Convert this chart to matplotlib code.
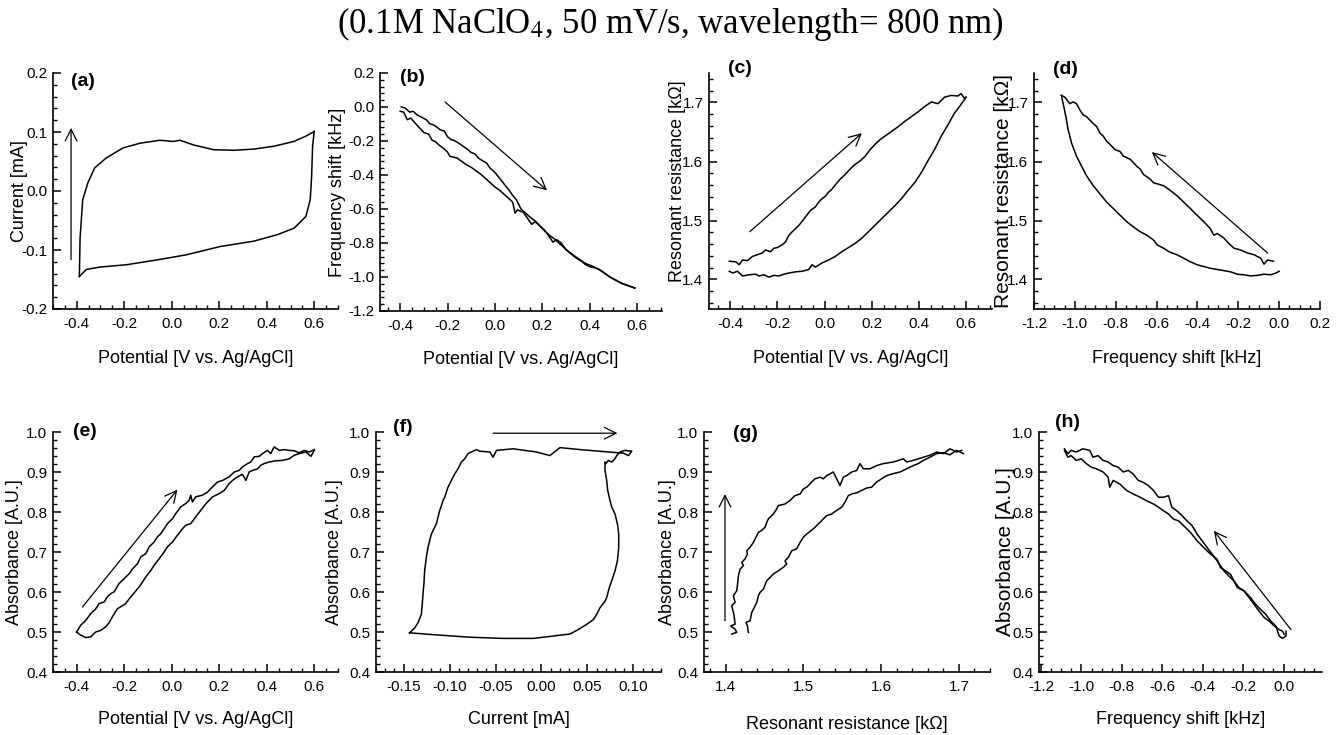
import matplotlib
matplotlib.use("Agg")
import matplotlib.pyplot as plt
from matplotlib.ticker import MultipleLocator, AutoMinorLocator

plt.rcParams['font.family'] = ['Liberation Sans', 'DejaVu Sans']
plt.rcParams['axes.unicode_minus'] = False
plt.rcParams['mathtext.fontset'] = 'stix'

# ---------------- data ----------------
# (a) cyclic voltammogram
a_fwd_x = [-0.389, -0.386, -0.375, -0.353, -0.325, -0.276, -0.205, -0.134, -0.05, 0.007, 0.035, 0.092, 0.176, 0.261, 0.346, 0.431, 0.515, 0.565, 0.6]
a_fwd_y = [-0.145, -0.08, -0.015, 0.014, 0.039, 0.056, 0.073, 0.081, 0.086, 0.084, 0.086, 0.078, 0.070, 0.069, 0.071, 0.076, 0.084, 0.093, 0.101]
a_rev_x = [0.6, 0.593, 0.589, 0.583, 0.565, 0.515, 0.445, 0.346, 0.205, 0.063, -0.05, -0.191, -0.304, -0.36, -0.389]
a_rev_y = [0.101, 0.076, 0.025, -0.015, -0.043, -0.063, -0.074, -0.085, -0.094, -0.108, -0.116, -0.125, -0.129, -0.133, -0.145]

# (b) frequency shift vs potential
b_up_x = [-0.395, -0.38, -0.36, -0.345, -0.33, -0.31, -0.29, -0.275, -0.26, -0.245, -0.23, -0.215, -0.20, -0.185, -0.17, -0.15, -0.13, -0.115, -0.10, -0.085, -0.07, -0.05, -0.035, -0.02, 0.0, 0.02, 0.04, 0.06, 0.075, 0.09, 0.11, 0.13, 0.15, 0.17, 0.19, 0.21, 0.23, 0.25, 0.27, 0.29, 0.31, 0.33, 0.35, 0.37, 0.39, 0.41, 0.43, 0.45, 0.47, 0.49, 0.51, 0.53, 0.55, 0.57, 0.59]
b_up_y = [0.000, -0.005, -0.030, -0.025, -0.045, -0.060, -0.075, -0.098, -0.105, -0.118, -0.135, -0.140, -0.175, -0.192, -0.198, -0.215, -0.235, -0.250, -0.268, -0.275, -0.300, -0.318, -0.330, -0.360, -0.385, -0.420, -0.455, -0.490, -0.520, -0.545, -0.600, -0.625, -0.650, -0.670, -0.700, -0.730, -0.755, -0.775, -0.800, -0.825, -0.850, -0.875, -0.895, -0.910, -0.925, -0.935, -0.950, -0.965, -0.985, -1.005, -1.020, -1.035, -1.045, -1.055, -1.065]
b_lo_x = [-0.40, -0.385, -0.37, -0.355, -0.34, -0.32, -0.30, -0.28, -0.265, -0.25, -0.235, -0.22, -0.20, -0.19, -0.175, -0.16, -0.14, -0.12, -0.10, -0.08, -0.06, -0.04, -0.02, 0.0, 0.02, 0.04, 0.06, 0.075, 0.085, 0.095, 0.12, 0.14, 0.155, 0.17, 0.19, 0.21, 0.23, 0.245, 0.26, 0.28, 0.30, 0.32, 0.34, 0.36, 0.38, 0.40, 0.42, 0.44, 0.46, 0.48, 0.50, 0.52, 0.54, 0.56, 0.59]
b_lo_y = [-0.025, -0.030, -0.075, -0.065, -0.090, -0.120, -0.150, -0.160, -0.195, -0.205, -0.225, -0.240, -0.265, -0.290, -0.295, -0.300, -0.320, -0.340, -0.355, -0.375, -0.395, -0.420, -0.445, -0.470, -0.490, -0.515, -0.540, -0.560, -0.625, -0.605, -0.620, -0.660, -0.690, -0.675, -0.700, -0.725, -0.765, -0.795, -0.780, -0.800, -0.840, -0.860, -0.880, -0.900, -0.925, -0.940, -0.945, -0.955, -0.975, -0.995, -1.010, -1.025, -1.040, -1.050, -1.065]

# (c) resonant resistance vs potential
c_up_x = [-0.404, -0.376, -0.362, -0.348, -0.327, -0.306, -0.285, -0.264, -0.250, -0.229, -0.215, -0.201, -0.179, -0.165, -0.151, -0.137, -0.116, -0.102, -0.081, -0.060, -0.039, -0.025, -0.011, 0.003, 0.017, 0.031, 0.045, 0.066, 0.087, 0.108, 0.129, 0.151, 0.172, 0.193, 0.214, 0.235, 0.256, 0.284, 0.312, 0.340, 0.368, 0.396, 0.424, 0.453, 0.481, 0.509, 0.537, 0.565, 0.579, 0.593, 0.600]
c_up_y = [1.431, 1.430, 1.425, 1.433, 1.432, 1.439, 1.442, 1.445, 1.450, 1.447, 1.453, 1.454, 1.459, 1.464, 1.475, 1.481, 1.489, 1.495, 1.506, 1.517, 1.523, 1.531, 1.537, 1.541, 1.548, 1.553, 1.560, 1.570, 1.578, 1.587, 1.595, 1.601, 1.609, 1.620, 1.629, 1.637, 1.643, 1.651, 1.659, 1.668, 1.676, 1.684, 1.693, 1.701, 1.698, 1.709, 1.712, 1.711, 1.715, 1.707, 1.709]
c_lo_x = [-0.404, -0.390, -0.369, -0.348, -0.320, -0.292, -0.278, -0.257, -0.236, -0.215, -0.194, -0.172, -0.151, -0.123, -0.095, -0.067, -0.053, -0.039, -0.011, 0.017, 0.045, 0.073, 0.101, 0.129, 0.158, 0.186, 0.214, 0.242, 0.270, 0.298, 0.326, 0.354, 0.382, 0.410, 0.438, 0.466, 0.495, 0.523, 0.551, 0.572, 0.600]
c_lo_y = [1.414, 1.411, 1.414, 1.406, 1.408, 1.409, 1.406, 1.408, 1.404, 1.407, 1.406, 1.409, 1.411, 1.413, 1.414, 1.417, 1.425, 1.421, 1.428, 1.433, 1.439, 1.447, 1.454, 1.461, 1.470, 1.481, 1.492, 1.503, 1.514, 1.525, 1.537, 1.551, 1.564, 1.581, 1.601, 1.620, 1.643, 1.662, 1.682, 1.693, 1.709]

# (d) resonant resistance vs frequency shift
d_up_x = [-0.028, -0.057, -0.074, -0.090, -0.123, -0.156, -0.189, -0.221, -0.246, -0.270, -0.303, -0.320, -0.336, -0.369, -0.402, -0.434, -0.467, -0.500, -0.533, -0.566, -0.615, -0.631, -0.664, -0.680, -0.697, -0.713, -0.730, -0.762, -0.779, -0.803, -0.828, -0.844, -0.861, -0.877, -0.893, -0.926, -0.943, -0.959, -0.975, -0.992, -1.008, -1.025, -1.049, -1.066]
d_up_y = [1.431, 1.433, 1.426, 1.436, 1.442, 1.445, 1.450, 1.453, 1.461, 1.470, 1.478, 1.475, 1.486, 1.498, 1.509, 1.520, 1.531, 1.542, 1.551, 1.559, 1.564, 1.570, 1.578, 1.587, 1.592, 1.598, 1.604, 1.609, 1.617, 1.620, 1.629, 1.634, 1.643, 1.648, 1.659, 1.670, 1.676, 1.679, 1.687, 1.698, 1.701, 1.698, 1.709, 1.712]
d_lo_x = [0.0, -0.016, -0.041, -0.074, -0.107, -0.139, -0.172, -0.205, -0.238, -0.270, -0.303, -0.336, -0.369, -0.402, -0.434, -0.467, -0.500, -0.533, -0.566, -0.598, -0.615, -0.648, -0.680, -0.713, -0.746, -0.779, -0.811, -0.844, -0.877, -0.910, -0.943, -0.967, -0.992, -1.016, -1.033, -1.044, -1.054, -1.066]
d_lo_y = [1.414, 1.411, 1.408, 1.409, 1.407, 1.406, 1.408, 1.409, 1.413, 1.415, 1.417, 1.419, 1.422, 1.425, 1.430, 1.436, 1.442, 1.446, 1.453, 1.459, 1.467, 1.475, 1.481, 1.489, 1.498, 1.509, 1.520, 1.531, 1.545, 1.559, 1.576, 1.592, 1.609, 1.631, 1.654, 1.676, 1.693, 1.712]

# (e) absorbance vs potential
e_up_x = [-0.401, -0.383, -0.362, -0.341, -0.320, -0.306, -0.285, -0.271, -0.257, -0.243, -0.222, -0.201, -0.179, -0.165, -0.144, -0.130, -0.109, -0.095, -0.074, -0.060, -0.046, -0.032, -0.018, 0.003, 0.017, 0.038, 0.059, 0.073, 0.080, 0.087, 0.101, 0.129, 0.151, 0.172, 0.193, 0.214, 0.242, 0.263, 0.284, 0.298, 0.319, 0.333, 0.347, 0.368, 0.382, 0.403, 0.417, 0.431, 0.453, 0.474, 0.495, 0.516, 0.537, 0.558, 0.579, 0.600]
e_up_y = [0.500, 0.517, 0.529, 0.546, 0.558, 0.571, 0.575, 0.588, 0.596, 0.600, 0.621, 0.633, 0.646, 0.658, 0.671, 0.688, 0.696, 0.713, 0.725, 0.738, 0.746, 0.758, 0.771, 0.783, 0.796, 0.813, 0.821, 0.829, 0.842, 0.825, 0.838, 0.842, 0.850, 0.863, 0.875, 0.879, 0.888, 0.900, 0.904, 0.913, 0.921, 0.925, 0.938, 0.939, 0.946, 0.954, 0.946, 0.963, 0.954, 0.956, 0.954, 0.953, 0.948, 0.954, 0.950, 0.956]
e_lo_x = [-0.401, -0.383, -0.362, -0.341, -0.320, -0.299, -0.278, -0.264, -0.250, -0.229, -0.215, -0.194, -0.179, -0.158, -0.137, -0.123, -0.109, -0.088, -0.074, -0.053, -0.032, -0.018, 0.003, 0.024, 0.045, 0.059, 0.080, 0.101, 0.122, 0.144, 0.172, 0.200, 0.221, 0.242, 0.256, 0.277, 0.298, 0.312, 0.326, 0.340, 0.361, 0.375, 0.389, 0.410, 0.438, 0.467, 0.495, 0.516, 0.537, 0.565, 0.586, 0.600]
e_lo_y = [0.500, 0.492, 0.486, 0.488, 0.500, 0.504, 0.513, 0.523, 0.538, 0.558, 0.563, 0.571, 0.583, 0.598, 0.613, 0.625, 0.638, 0.654, 0.667, 0.683, 0.700, 0.713, 0.725, 0.742, 0.758, 0.767, 0.771, 0.788, 0.804, 0.821, 0.838, 0.846, 0.854, 0.871, 0.879, 0.888, 0.894, 0.879, 0.900, 0.904, 0.908, 0.917, 0.921, 0.925, 0.928, 0.929, 0.933, 0.942, 0.946, 0.950, 0.939, 0.954]

# (f) absorbance vs current (closed loop)
f_x = [-0.1435, -0.1217, -0.0781, -0.0417, -0.0090, 0.0310, 0.0400, 0.0491, 0.0564, 0.0600, 0.0637, 0.0691, 0.0709, 0.0738, 0.0775, 0.0800, 0.0826, 0.0840, 0.0840, 0.0826, 0.0800, 0.0764, 0.0746, 0.0720, 0.0709, 0.0691, 0.0691, 0.0702, 0.0727, 0.0764, 0.0800, 0.0818, 0.0855, 0.0909, 0.0982, 0.0946, 0.0891, 0.0419, 0.0201, 0.0092, -0.0054, -0.0308, -0.0490, -0.0526, -0.0562, -0.0672, -0.0708, -0.0762, -0.0799, -0.0835, -0.0871, -0.0890, -0.0908, -0.0944, -0.0980, -0.1017, -0.1053, -0.1071, -0.1108, -0.1144, -0.1198, -0.1235, -0.1253, -0.1271, -0.1278, -0.1289, -0.1297, -0.1307, -0.1344, -0.1380, -0.1435]
f_y = [0.498, 0.494, 0.487, 0.484, 0.484, 0.495, 0.506, 0.519, 0.531, 0.544, 0.561, 0.577, 0.586, 0.611, 0.636, 0.653, 0.678, 0.711, 0.745, 0.770, 0.795, 0.812, 0.828, 0.854, 0.879, 0.904, 0.925, 0.921, 0.929, 0.925, 0.933, 0.941, 0.950, 0.954, 0.952, 0.941, 0.947, 0.956, 0.961, 0.941, 0.950, 0.958, 0.954, 0.937, 0.950, 0.952, 0.956, 0.950, 0.946, 0.933, 0.925, 0.916, 0.908, 0.895, 0.879, 0.862, 0.837, 0.828, 0.803, 0.770, 0.745, 0.711, 0.686, 0.653, 0.623, 0.594, 0.569, 0.544, 0.523, 0.510, 0.498]

# (g) absorbance vs resonant resistance
g_up_x = [1.4077, 1.4141, 1.4120, 1.4064, 1.4120, 1.4107, 1.4077, 1.4120, 1.4099, 1.4141, 1.4150, 1.4163, 1.4184, 1.4227, 1.4206, 1.4249, 1.4279, 1.4270, 1.4313, 1.4356, 1.4399, 1.4420, 1.4463, 1.4506, 1.4527, 1.4549, 1.4613, 1.4656, 1.4677, 1.4763, 1.4827, 1.4892, 1.4956, 1.4999, 1.5042, 1.5106, 1.5149, 1.5213, 1.5256, 1.5299, 1.5384, 1.5470, 1.5513, 1.5556, 1.5620, 1.5685, 1.5727, 1.5770, 1.5856, 1.5942, 1.6027, 1.6156, 1.6285, 1.6327, 1.6413, 1.6542, 1.6628, 1.6713, 1.6799, 1.6885, 1.6970, 1.7035]
g_up_y = [0.495, 0.499, 0.507, 0.515, 0.520, 0.541, 0.566, 0.574, 0.591, 0.603, 0.616, 0.641, 0.657, 0.666, 0.674, 0.683, 0.695, 0.703, 0.712, 0.724, 0.741, 0.749, 0.754, 0.762, 0.774, 0.783, 0.795, 0.808, 0.816, 0.820, 0.829, 0.841, 0.845, 0.858, 0.862, 0.875, 0.883, 0.887, 0.883, 0.891, 0.900, 0.866, 0.887, 0.891, 0.900, 0.904, 0.921, 0.908, 0.908, 0.916, 0.921, 0.925, 0.933, 0.925, 0.929, 0.937, 0.942, 0.950, 0.946, 0.958, 0.950, 0.954]
g_lo_x = [1.4291, 1.4279, 1.4261, 1.4313, 1.4334, 1.4356, 1.4399, 1.4420, 1.4441, 1.4484, 1.4527, 1.4613, 1.4677, 1.4742, 1.4784, 1.4763, 1.4806, 1.4849, 1.4913, 1.4956, 1.4999, 1.5042, 1.5127, 1.5170, 1.5213, 1.5256, 1.5299, 1.5363, 1.5427, 1.5492, 1.5535, 1.5556, 1.5577, 1.5620, 1.5685, 1.5749, 1.5813, 1.5877, 1.5942, 1.6006, 1.6070, 1.6156, 1.6242, 1.6327, 1.6413, 1.6478, 1.6542, 1.6628, 1.6713, 1.6799, 1.6885, 1.6970, 1.7056]
g_lo_y = [0.499, 0.515, 0.524, 0.528, 0.549, 0.557, 0.574, 0.591, 0.599, 0.607, 0.628, 0.645, 0.653, 0.662, 0.670, 0.678, 0.687, 0.703, 0.708, 0.724, 0.737, 0.745, 0.758, 0.766, 0.774, 0.783, 0.791, 0.795, 0.804, 0.812, 0.825, 0.833, 0.841, 0.845, 0.848, 0.854, 0.860, 0.862, 0.875, 0.883, 0.891, 0.896, 0.900, 0.908, 0.916, 0.921, 0.929, 0.937, 0.946, 0.948, 0.943, 0.954, 0.946]

# (h) absorbance vs frequency shift
h_1_x = [-1.084, -1.067, -1.051, -1.026, -0.993, -0.959, -0.943, -0.918, -0.893, -0.868, -0.843, -0.818, -0.793, -0.768, -0.744, -0.719, -0.694, -0.669, -0.644, -0.619, -0.594, -0.569, -0.553, -0.528, -0.503, -0.478, -0.453, -0.428, -0.403, -0.378, -0.354, -0.329, -0.312, -0.295, -0.271, -0.246, -0.221, -0.196, -0.171, -0.146, -0.121, -0.096, -0.071, -0.046, -0.022, -0.005, 0.003]
h_1_y = [0.958, 0.946, 0.954, 0.950, 0.958, 0.954, 0.937, 0.941, 0.929, 0.925, 0.916, 0.912, 0.900, 0.904, 0.895, 0.879, 0.874, 0.866, 0.854, 0.837, 0.837, 0.841, 0.812, 0.803, 0.791, 0.778, 0.766, 0.745, 0.728, 0.711, 0.695, 0.678, 0.665, 0.653, 0.640, 0.628, 0.611, 0.603, 0.586, 0.569, 0.552, 0.536, 0.527, 0.515, 0.506, 0.502, 0.494]
h_2_x = [-1.084, -1.067, -1.051, -1.026, -1.001, -0.976, -0.951, -0.926, -0.893, -0.868, -0.860, -0.843, -0.810, -0.777, -0.744, -0.710, -0.677, -0.644, -0.619, -0.594, -0.569, -0.544, -0.520, -0.495, -0.461, -0.428, -0.395, -0.362, -0.329, -0.312, -0.287, -0.262, -0.246, -0.229, -0.196, -0.163, -0.138, -0.113, -0.088, -0.063, -0.038, -0.022, -0.005, 0.012, 0.012]
h_2_y = [0.954, 0.937, 0.941, 0.929, 0.933, 0.921, 0.912, 0.908, 0.900, 0.887, 0.862, 0.879, 0.870, 0.854, 0.845, 0.837, 0.828, 0.820, 0.812, 0.803, 0.795, 0.782, 0.778, 0.766, 0.749, 0.728, 0.711, 0.695, 0.682, 0.661, 0.653, 0.644, 0.628, 0.611, 0.603, 0.586, 0.569, 0.556, 0.544, 0.527, 0.515, 0.490, 0.484, 0.490, 0.502]

# direction arrows (start, end) in data units
arrows = {
    'a': ((-0.424, -0.116), (-0.424, 0.107)),
    'b': ((-0.21, 0.029), (0.22, -0.49)),
    'c': ((-0.317, 1.481), (0.158, 1.648)),
    'd': ((-0.057, 1.445), (-0.623, 1.616)),
    'e': ((-0.376, 0.5625), (0.024, 0.856)),
    'f': ((-0.0526, 0.997), (0.0826, 0.997)),
    'g': ((1.399, 0.528), (1.399, 0.845)),
    'h': ((0.0365, 0.506), (-0.345, 0.753)),
}

title = r'(0.1M NaClO$_4$, 50 mV/s, wavelength= 800 nm)'

# ---------------- figure ----------------
W, H = 1341, 735
fig = plt.figure(figsize=(W / 100, H / 100), dpi=100)


def px_axes(left, top, right, bottom):
    return fig.add_axes([left / W, 1 - bottom / H, (right - left) / W, (bottom - top) / H])


def style(ax, xlim, ylim, xmaj, xsub, ymaj, ysub, xlabel, ylabel, xlab_y, ylab_x, ylab_y=0.5,
          ylab_size=13, panel='', pxy=(0.06, 0.97)):
    ax.set_xlim(*xlim)
    ax.set_ylim(*ylim)
    for s in ['top', 'right']:
        ax.spines[s].set_visible(False)
    for s in ['left', 'bottom']:
        ax.spines[s].set_linewidth(1.2)
    ax.xaxis.set_major_locator(MultipleLocator(xmaj))
    ax.xaxis.set_minor_locator(AutoMinorLocator(xsub))
    ax.yaxis.set_major_locator(MultipleLocator(ymaj))
    ax.yaxis.set_minor_locator(AutoMinorLocator(ysub))
    ax.tick_params(which='major', direction='in', length=6, width=1.1, labelsize=11)
    ax.tick_params(which='minor', direction='in', length=3, width=1.0)
    ax.tick_params(axis='x', which='major', pad=6)
    ax.tick_params(axis='y', which='major', pad=4)
    xfmt = '%.2f' if xmaj < 0.1 else '%.1f'
    ax.xaxis.set_major_formatter(matplotlib.ticker.FuncFormatter(
        lambda v, p: (xfmt % 0.0) if abs(v) < 1e-9 else xfmt % v))
    ax.yaxis.set_major_formatter(matplotlib.ticker.FuncFormatter(
        lambda v, p: '0.0' if abs(v) < 1e-9 else '%.1f' % v))
    ax.set_xlabel(xlabel, fontsize=13, va='center')
    ax.xaxis.set_label_coords(0.5, xlab_y)
    ax.set_ylabel(ylabel, fontsize=ylab_size, va='center')
    ax.yaxis.set_label_coords(ylab_x, ylab_y)
    ax.text(pxy[0], pxy[1], panel, transform=ax.transAxes, fontsize=14, fontweight='bold',
            ha='left', va='center')


def arrow(ax, key):
    (x0, y0), (x1, y1) = arrows[key]
    ax.annotate('', xy=(x1, y1), xytext=(x0, y0), annotation_clip=False,
                arrowprops=dict(arrowstyle='->,head_length=0.6,head_width=0.3', lw=0.9,
                                color='black', shrinkA=0, shrinkB=0, mutation_scale=14))


LW = 1.1
pot = 'Potential [V vs. Ag/AgCl]'
fs = 'Frequency shift [kHz]'
rr = 'Resonant resistance [k\u03a9]'
ab = 'Absorbance [A.U.]'

# (a)
ax = px_axes(53, 73, 338, 309)
ax.plot(a_fwd_x, a_fwd_y, color='black', lw=LW)
ax.plot(a_rev_x, a_rev_y, color='black', lw=LW)
arrow(ax, 'a')
style(ax, (-0.5, 0.7), (-0.2, 0.2), 0.2, 4, 0.1, 5, pot, 'Current [mA]', -0.208, -0.116,
      panel='(a)', pxy=(0.063, 0.966))

# (b)
ax = px_axes(380, 73, 662, 311)
ax.plot(b_up_x, b_up_y, color='black', lw=LW)
ax.plot(b_lo_x, b_lo_y, color='black', lw=LW)
arrow(ax, 'b')
style(ax, (-0.485, 0.705), (-1.2, 0.2), 0.2, 4, 0.2, 5, pot, fs, -0.205, -0.152,
      panel='(b)', pxy=(0.071, 0.983))

# (c)
ax = px_axes(709, 73, 992, 309)
ax.plot(c_up_x, c_up_y, color='black', lw=LW)
ax.plot(c_lo_x, c_lo_y, color='black', lw=LW)
arrow(ax, 'c')
style(ax, (-0.49, 0.71), (1.35, 1.75), 0.2, 4, 0.1, 5, pot, rr, -0.208, -0.113, ylab_y=0.54,
      panel='(c)', pxy=(0.067, 1.017))

# (d)
ax = px_axes(1034, 73, 1320, 309)
ax.plot(d_up_x, d_up_y, color='black', lw=LW)
ax.plot(d_lo_x, d_lo_y, color='black', lw=LW)
arrow(ax, 'd')
style(ax, (-1.2, 0.2), (1.35, 1.75), 0.2, 4, 0.1, 5, fs, rr, -0.208, -0.108, ylab_size=15,
      panel='(d)', pxy=(0.066, 1.013))

# (e)
ax = px_axes(53, 432, 338, 672)
ax.plot(e_up_x, e_up_y, color='black', lw=LW)
ax.plot(e_lo_x, e_lo_y, color='black', lw=LW)
arrow(ax, 'e')
style(ax, (-0.5, 0.7), (0.4, 1.0), 0.2, 4, 0.1, 5, pot, ab, -0.2, -0.134,
      panel='(e)', pxy=(0.07, 1.0))

# (f)
ax = px_axes(376, 432, 661, 672)
ax.plot(f_x, f_y, color='black', lw=LW)
arrow(ax, 'f')
style(ax, (-0.18, 0.13), (0.4, 1.0), 0.05, 5, 0.1, 5, 'Current [mA]', ab, -0.2, -0.144,
      panel='(f)', pxy=(0.06, 1.02))

# (g)
ax = px_axes(704, 432, 990, 672)
ax.plot(g_up_x, g_up_y, color='black', lw=LW)
ax.plot(g_lo_x, g_lo_y, color='black', lw=LW)
arrow(ax, 'g')
style(ax, (1.372, 1.74), (0.4, 1.0), 0.1, 5, 0.1, 5, rr, ab, -0.22, -0.126,
      panel='(g)', pxy=(0.10, 0.995))

# (h)
ax = px_axes(1039, 432, 1322, 672)
ax.plot(h_1_x, h_1_y, color='black', lw=LW)
ax.plot(h_2_x, h_2_y, color='black', lw=LW)
arrow(ax, 'h')
style(ax, (-1.21, 0.19), (0.4, 1.0), 0.2, 4, 0.1, 5, fs, ab, -0.2, -0.12, ylab_size=15,
      panel='(h)', pxy=(0.057, 1.04))

fig.text(0.5, 1 - 24 / H, title, ha='center', va='center', fontsize=25,
         family=['Liberation Serif', 'DejaVu Serif'])

fig.savefig('out.png', dpi=100)
